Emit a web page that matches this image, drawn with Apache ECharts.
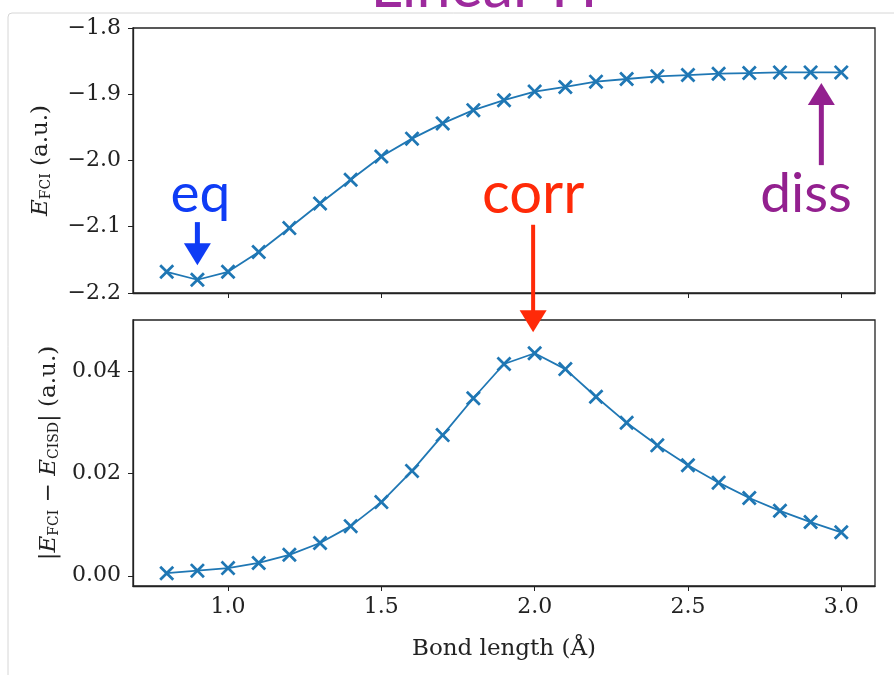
<!DOCTYPE html>
<html>
<head>
<meta charset="utf-8">
<script src="https://cdn.jsdelivr.net/npm/echarts@6/dist/echarts.min.js"></script>
<style>
html, body { margin: 0; padding: 0; background: #fff; }
#main { width: 894px; height: 675px; }
</style>
</head>
<body>
<div id="main"></div>
<script>
// bond length (Angstrom)
var bondLength = [0.8, 0.9, 1.0, 1.1, 1.2, 1.3, 1.4, 1.5, 1.6, 1.7, 1.8, 1.9,
  2.0, 2.1, 2.2, 2.3, 2.4, 2.5, 2.6, 2.7, 2.8, 2.9, 3.0];
// FCI energy (a.u.)
var energyFCI = [-2.168, -2.180, -2.168, -2.138, -2.102, -2.065, -2.029, -1.994,
  -1.967, -1.944, -1.924, -1.909, -1.896, -1.889, -1.881, -1.877, -1.873, -1.871,
  -1.869, -1.868, -1.867, -1.867, -1.867];
// |E_FCI - E_CISD| (a.u.)
var errorCISD = [0.0005, 0.0010, 0.0015, 0.0025, 0.0041, 0.0064, 0.0097, 0.0144,
  0.0205, 0.0275, 0.0347, 0.0414, 0.0435, 0.0404, 0.0350, 0.0299, 0.0255, 0.0216,
  0.0182, 0.0152, 0.0127, 0.0105, 0.0085];

var xTicks = [1.0, 1.5, 2.0, 2.5, 3.0];
var topTicks = [-2.2, -2.1, -2.0, -1.9, -1.8];
var bottomTicks = [0.00, 0.02, 0.04];

// hand-drawn annotations
var annoLabels = ['eq', 'corr', 'diss'];
var annoColors = ['#0f3cf5', '#ff2a08', '#93208f'];
var annoFrom = [[0.9, -2.093], [1.995, -2.097], [2.935, -2.007]];   // top panel
var annoTo = [[0.9, -2.158], [1.995, 0.0476], [2.935, -1.883]];
var annoToPanel = [0, 1, 0];
var annoText = [[0.91, -2.051], [1.995, -2.051], [2.885, -2.051]];

var C0 = '#1f77b4';
var serif = '"DejaVu Serif", serif';
var xMark = 'path://M0,1.3L1.3,0L5,3.7L8.7,0L10,1.3L6.3,5L10,8.7L8.7,10L5,6.3L1.3,10L0,8.7L3.7,5Z';

var myChart = echarts.init(document.getElementById('main'));

function minus(v, d) {
  return (v < 0 ? '\u2212' : '') + Math.abs(v).toFixed(d);
}

var axisLine = { show: true, onZero: false, lineStyle: { color: '#222', width: 1.3 } };
var axisTick = { show: true, inside: false, length: 5, lineStyle: { color: '#222', width: 1 } };
var nameRich = {
  e: { fontFamily: serif, fontStyle: 'italic', fontSize: 23, color: '#222' },
  s: { fontFamily: serif, fontSize: 14, color: '#222', padding: [9, 0, 0, 0] },
  n: { fontFamily: serif, fontSize: 23, color: '#222' }
};

var option = {
  animation: false,
  backgroundColor: '#fff',
  grid: [
    { left: 133, top: 28, width: 742, height: 265, show: true, borderColor: '#222', borderWidth: 1.3 },
    { left: 133, top: 320, width: 742, height: 266, show: true, borderColor: '#222', borderWidth: 1.3 }
  ],
  xAxis: [{
    gridIndex: 0, type: 'value', min: 0.69, max: 3.11,
    axisLine: axisLine,
    axisTick: Object.assign({ customValues: xTicks }, axisTick),
    axisLabel: { show: false },
    splitLine: { show: false }
  }, {
    gridIndex: 1, type: 'value', min: 0.69, max: 3.11,
    name: 'Bond length (\u00c5)',
    nameLocation: 'middle', nameGap: 52,
    nameTextStyle: { fontFamily: serif, fontSize: 23, color: '#222' },
    axisLine: axisLine,
    axisTick: Object.assign({ customValues: xTicks }, axisTick),
    axisLabel: {
      customValues: xTicks, margin: 10, fontFamily: serif, fontSize: 22, color: '#222',
      formatter: function (v) { return v.toFixed(1); }
    },
    splitLine: { show: false }
  }],
  yAxis: [{
    gridIndex: 0, type: 'value', min: -2.2, max: -1.8, interval: 0.1,
    name: '{e|E}{s|FCI}{n| (a.u.)}',
    nameLocation: 'middle', nameGap: 80, nameRotate: 90,
    nameTextStyle: { rich: nameRich },
    axisLine: axisLine,
    axisTick: axisTick,
    axisLabel: {
      margin: 12, fontFamily: serif, fontSize: 22, color: '#222',
      formatter: function (v) { return minus(v, 1); }
    },
    splitLine: { show: false }
  }, {
    gridIndex: 1, type: 'value', min: -0.002, max: 0.05,
    name: '{n||}{e|E}{s|FCI}{n| \u2212 }{e|E}{s|CISD}{n|| (a.u.)}',
    nameLocation: 'middle', nameGap: 72, nameRotate: 90,
    nameTextStyle: { rich: nameRich },
    axisLine: axisLine,
    axisTick: Object.assign({ customValues: bottomTicks }, axisTick),
    axisLabel: {
      customValues: bottomTicks, margin: 12, fontFamily: serif, fontSize: 22, color: '#222',
      formatter: function (v) { return v.toFixed(2); }
    },
    splitLine: { show: false }
  }],
  series: [{
    type: 'line', xAxisIndex: 0, yAxisIndex: 0,
    data: bondLength.map(function (x, i) { return [x, energyFCI[i]]; }),
    symbol: xMark, symbolSize: 15, showAllSymbol: true,
    lineStyle: { color: C0, width: 1.8 },
    itemStyle: { color: C0 }
  }, {
    type: 'line', xAxisIndex: 1, yAxisIndex: 1,
    data: bondLength.map(function (x, i) { return [x, errorCISD[i]]; }),
    symbol: xMark, symbolSize: 15, showAllSymbol: true,
    lineStyle: { color: C0, width: 1.8 },
    itemStyle: { color: C0 }
  }]
};
myChart.setOption(option);

// arrows + labels, placed from data coordinates
function toPx(panel, p) {
  return myChart.convertToPixel({ xAxisIndex: panel, yAxisIndex: panel }, p);
}
function arrow(p0, p1, color, shaftW, headL, headW) {
  var dx = p1[0] - p0[0], dy = p1[1] - p0[1];
  var len = Math.sqrt(dx * dx + dy * dy);
  var ux = dx / len, uy = dy / len;
  var bx = p1[0] - ux * headL, by = p1[1] - uy * headL;
  return [{
    type: 'line', z: 100,
    shape: { x1: p0[0], y1: p0[1], x2: bx + ux * 2, y2: by + uy * 2 },
    style: { stroke: color, lineWidth: shaftW }
  }, {
    type: 'polygon', z: 100,
    shape: { points: [[p1[0], p1[1]], [bx - uy * headW / 2, by + ux * headW / 2], [bx + uy * headW / 2, by - ux * headW / 2]] },
    style: { fill: color }
  }];
}

var graphics = [{
  type: 'rect', z: -1, silent: true,
  shape: { x: 8, y: 13, width: 900, height: 700, r: 4 },
  style: { fill: 'none', stroke: '#d6d6d6', lineWidth: 1 }
}, {
  type: 'text', z: 50,
  x: 484, y: 18,
  style: { text: 'Linear H', fontFamily: 'Lato, sans-serif', fontSize: 61, fill: '#9d2a9d', textAlign: 'center', textVerticalAlign: 'bottom' }
}];
var shaftW = [5, 4, 5];
annoLabels.forEach(function (lab, i) {
  var p0 = toPx(0, annoFrom[i]);
  var p1 = toPx(annoToPanel[i], annoTo[i]);
  graphics = graphics.concat(arrow(p0, p1, annoColors[i], shaftW[i], 22, 27));
  var pt = toPx(0, annoText[i]);
  graphics.push({
    type: 'text', z: 100, x: pt[0], y: pt[1],
    style: { text: lab, fontFamily: 'Lato, sans-serif', fontSize: i === 1 ? 58 : 55, fill: annoColors[i], textAlign: 'center', textVerticalAlign: 'middle' }
  });
});
myChart.setOption({ graphic: graphics });
</script>
</body>
</html>
